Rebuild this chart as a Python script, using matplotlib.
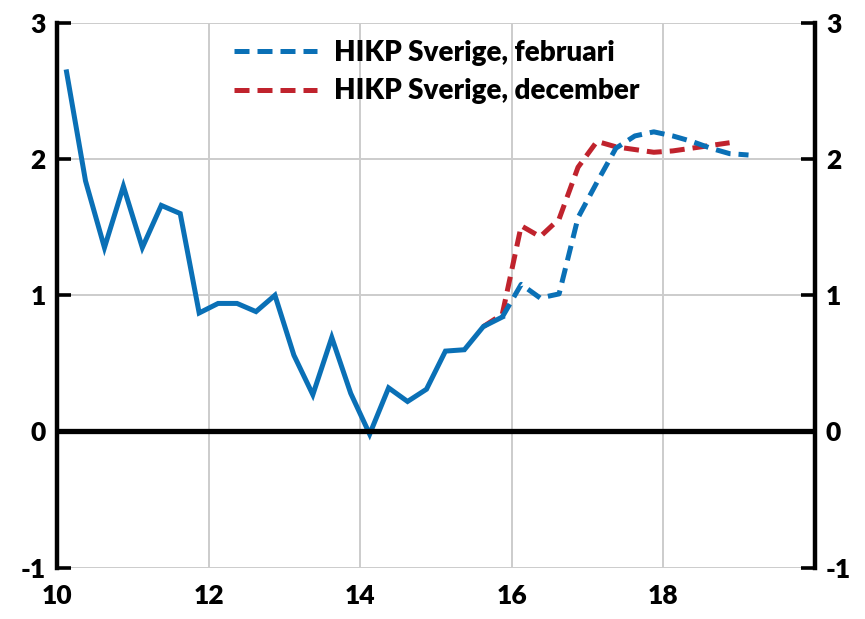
import matplotlib
matplotlib.use("Agg")
import matplotlib.pyplot as plt
import numpy as np

# Quarterly data, first quarter 2010 Q1 (plotted at mid-quarter)
start_year = 2010
blue_solid = [2.64, 1.84, 1.35, 1.80, 1.35, 1.66, 1.60, 0.87, 0.94, 0.94, 0.88, 1.00,
              0.56, 0.27, 0.69, 0.28, -0.02, 0.32, 0.22, 0.31, 0.59, 0.60, 0.77, 0.84]
# HIKP Sverige, februari (starts at quarter index 23)
feb_start = 23
feb_values = [0.84, 1.08, 0.98, 1.01, 1.57, 1.83, 2.08, 2.17, 2.20, 2.17, 2.13, 2.08, 2.04, 2.03]
# HIKP Sverige, december (starts at quarter index 22)
dec_start = 22
dec_values = [0.77, 0.86, 1.51, 1.43, 1.56, 1.94, 2.13, 2.09, 2.07, 2.05, 2.06, 2.08, 2.10, 2.12]

labels = ["HIKP Sverige, februari", "HIKP Sverige, december"]
xticks = [10, 12, 14, 16, 18]
yticks = [-1, 0, 1, 2, 3]

blue = "#0a70b6"
red = "#c0232d"

def qx(idx0, n):
    k = np.arange(idx0, idx0 + n)
    return (start_year - 2000) + (k + 0.5) / 4.0

plt.rcParams['font.family'] = ['Lato', 'DejaVu Sans']
plt.rcParams['font.weight'] = 'bold'
plt.rcParams['axes.unicode_minus'] = False

fig = plt.figure(figsize=(8.65, 6.19), dpi=100)
ax = fig.add_axes([0.066, 0.083, 0.876, 0.880])

lw = 3.6
ax.plot(qx(0, len(blue_solid)), blue_solid, color=blue, lw=lw, solid_joinstyle='miter', zorder=4)
l1, = ax.plot(qx(feb_start, len(feb_values)), feb_values, color=blue, lw=lw, dashes=(3, 1.6),
              label=labels[0], zorder=3)
l2, = ax.plot(qx(dec_start, len(dec_values)), dec_values, color=red, lw=lw, dashes=(3, 1.6),
              label=labels[1], zorder=2)

ax.axhline(0, color='black', lw=3.8, zorder=5)

ax.set_xlim(10, 20)
ax.set_ylim(-1, 3)
ax.set_xticks(xticks)
ax.set_xticks([20], minor=True)
ax.set_yticks(yticks)
ax.grid(True, which='both', color='#cccccc', lw=1.4, zorder=0)
ax.set_axisbelow(True)

for s in ['top', 'bottom']:
    ax.spines[s].set_visible(False)
for s in ['left', 'right']:
    ax.spines[s].set_linewidth(3.2)
    ax.spines[s].set_color('black')

ax.tick_params(axis='y', which='both', direction='in', length=10, width=2.6,
               left=True, right=True, labelleft=True, labelright=True,
               labelsize=19, pad=8)
ax.tick_params(axis='x', which='both', length=0, labelsize=19, pad=12)
for t in ax.get_xticklabels() + ax.get_yticklabels():
    t.set_fontweight('heavy')

leg = ax.legend(handles=[l1, l2], loc='upper left', bbox_to_anchor=(0.2, 1.015),
                frameon=False, handlelength=3.0, handletextpad=0.6,
                labelspacing=0.45, prop={'weight': 'heavy', 'size': 20})

fig.savefig("out.png", dpi=100)
